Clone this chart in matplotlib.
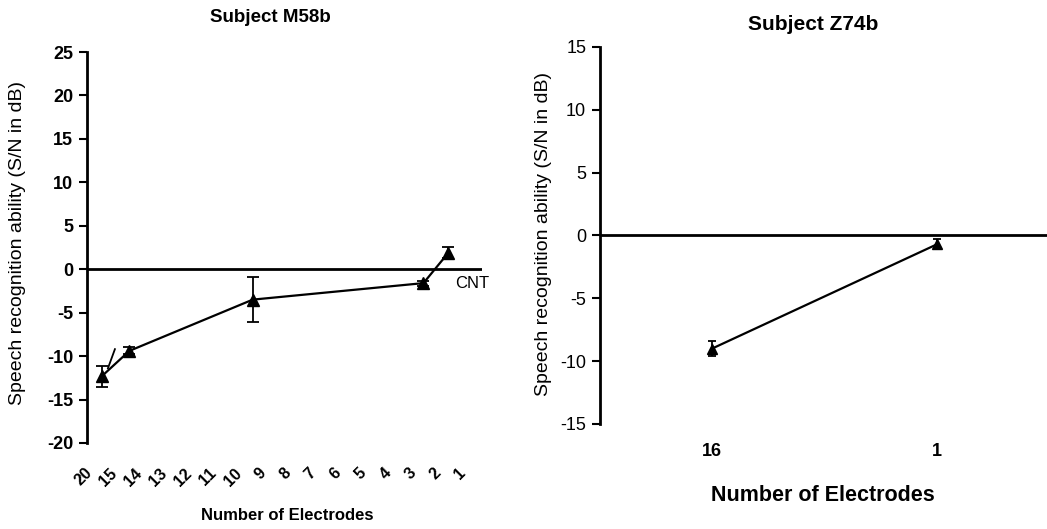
import matplotlib
matplotlib.use("Agg")
import matplotlib.pyplot as plt

plt.rcParams['font.family'] = ['Liberation Sans', 'DejaVu Sans']
plt.rcParams['axes.unicode_minus'] = False

# Subject M58b: electrode count labels on the category axis
m58_labels = ['20', '15', '14', '13', '12', '11', '10', '9', '8', '7', '6', '5', '4', '3', '2', '1']
# data positions along the category axis and S/N values
m58_x = [0.5, 1.6, 6.55, 13.4, 14.4]
m58_y = [-12.3, -9.4, -3.5, -1.6, 1.9]
m58_err = [1.2, 0.4, 2.6, 0.3, 0.6]

# Subject Z74b
z74_labels = ['16', '1']
z74_x = [1, 2]
z74_y = [-9.0, -0.7]
z74_err = [0.6, 0.4]

fig = plt.figure(figsize=(10.47, 5.29), dpi=100)

# ---- left panel ----
ax1 = fig.add_axes([0.0831, 0.1626, 0.3773, 0.7391])
ax1.errorbar(m58_x, m58_y, yerr=m58_err, color='black', marker='^', markersize=8,
             linewidth=1.6, elinewidth=1.3, capsize=4, capthick=1.3)
# small slash drawn next to the first segment
ax1.plot([0.74, 1.02], [-11.4, -9.2], color='black', linewidth=1.3)
ax1.axhline(0, color='black', linewidth=2)
ax1.set_xlim(-0.1, 15.75)
ax1.set_ylim(-20, 25)
ax1.set_yticks(range(-20, 30, 5))
ax1.set_xticks(range(len(m58_labels)))
ax1.set_xticklabels(m58_labels, rotation=45, ha='right', va='center',
                    rotation_mode='anchor', fontsize=11.5, fontweight='bold')
for s in ['top', 'right', 'bottom']:
    ax1.spines[s].set_visible(False)
ax1.spines['left'].set_linewidth(2)
ax1.tick_params(axis='x', length=0, pad=20)
ax1.tick_params(axis='y', length=6, width=1.5, labelsize=13, pad=4)
for t in ax1.get_yticklabels():
    t.set_fontweight('bold')
ax1.text(14.68, -1.6, 'CNT', fontsize=12, va='center', ha='left')

fig.text(0.258, 0.966, 'Subject M58b', ha='center', va='center', fontsize=13.5, fontweight='bold')
fig.text(0.274, 0.026, 'Number of Electrodes', ha='center', va='center', fontsize=12, fontweight='bold')
fig.text(0.017, 0.54, 'Speech recognition ability (S/N in dB)', rotation=90,
         ha='center', va='center', fontsize=14)

# ---- right panel ----
ax2 = fig.add_axes([0.5731, 0.1985, 0.4269, 0.7127])
ax2.errorbar(z74_x, z74_y, yerr=z74_err, color='black', marker='^', markersize=7,
             linewidth=1.6, elinewidth=1.3, capsize=3, capthick=1.3)
ax2.axhline(0, color='black', linewidth=2)
ax2.set_xlim(0.502, 2.489)
ax2.set_ylim(-15, 15)
ax2.set_yticks(range(-15, 20, 5))
ax2.set_xticks(z74_x)
ax2.set_xticklabels(z74_labels, fontsize=13, fontweight='bold')
for s in ['top', 'right', 'bottom']:
    ax2.spines[s].set_visible(False)
ax2.spines['left'].set_linewidth(2)
ax2.tick_params(axis='x', length=0, pad=14)
ax2.tick_params(axis='y', length=6, width=1.5, labelsize=13, pad=4)

fig.text(0.7765, 0.953, 'Subject Z74b', ha='center', va='center', fontsize=15, fontweight='bold')
fig.text(0.786, 0.064, 'Number of Electrodes', ha='center', va='center', fontsize=15.5, fontweight='bold')
fig.text(0.519, 0.558, 'Speech recognition ability (S/N in dB)', rotation=90,
         ha='center', va='center', fontsize=14)

fig.savefig('out.png', dpi=100)
